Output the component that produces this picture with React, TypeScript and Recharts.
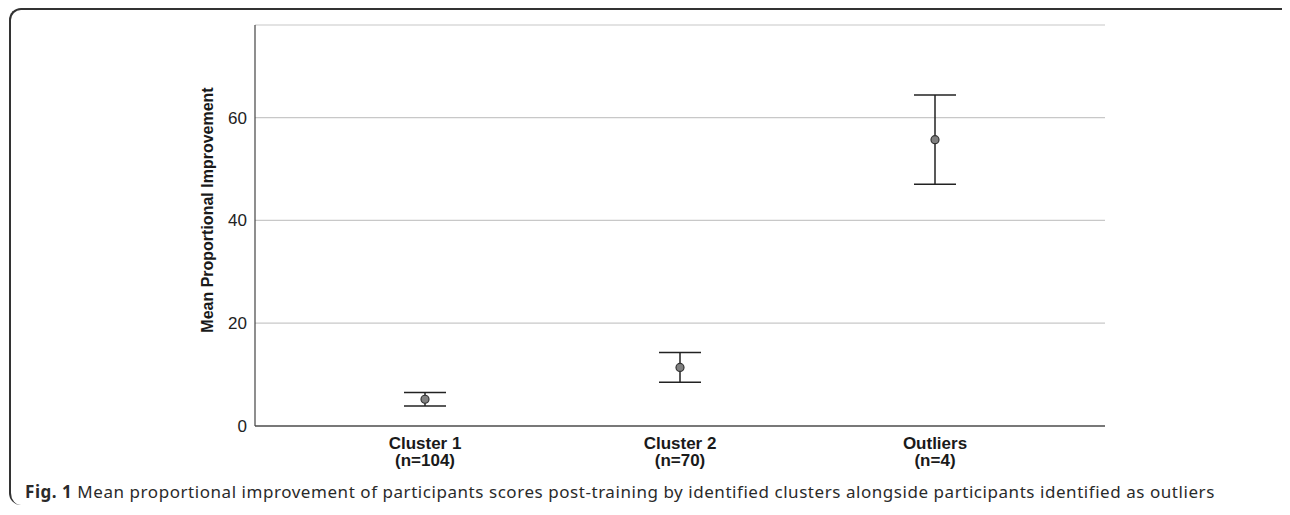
import React from 'react';
import { ScatterChart, Scatter, XAxis, YAxis, CartesianGrid, ErrorBar } from 'recharts';

// values
const categories = ['Cluster 1', 'Cluster 2', 'Outliers'];
const groupSizes = ['(n=104)', '(n=70)', '(n=4)'];
const means = [5.2, 11.4, 55.7];
const errors = [1.3, 2.9, 8.7];
const yTicks = [0, 20, 40, 60];

const data = categories.map((name, i) => ({
  x: i + 1,
  name,
  n: groupSizes[i],
  mean: means[i],
  err: errors[i],
}));

const CategoryTick = (props: any) => {
  const { x, y, payload } = props;
  const i = Math.round(payload.value) - 1;
  return (
    <g transform={`translate(${x},${y})`}>
      <text x={0} y={0} textAnchor="middle" fontFamily="Liberation Sans, Arial, sans-serif" fontWeight="bold" fontSize={17} fill="#1a1a1a">
        <tspan x={0} dy={15}>{categories[i]}</tspan>
        <tspan x={0} dy={17}>{groupSizes[i]}</tspan>
      </text>
    </g>
  );
};

const Dot = (props: any) => {
  const { cx, cy } = props;
  return <circle cx={cx} cy={cy} r={4} fill="#808080" stroke="#333" strokeWidth={1.2} />;
};

const YLabel = () => (
  <text
    x={199}
    y={202}
    transform="rotate(-90 199 202)"
    textAnchor="middle"
    dominantBaseline="central"
    fontFamily="Liberation Sans, Arial, sans-serif"
    fontWeight="bold"
    fontSize={16}
    fill="#1a1a1a"
  >
    Mean Proportional Improvement
  </text>
);

const App: React.FC = () => {
  return (
    <div style={{ position: 'relative', width: 1282, height: 507, background: '#fff' }}>
      <div
        style={{
          position: 'absolute',
          left: 1,
          top: 0,
          width: 1290,
          height: 497,
          borderTop: '2px solid #333',
          borderLeft: '2px solid #333',
          borderTopLeftRadius: 12,
          borderBottomLeftRadius: 12,
          boxSizing: 'border-box',
        }}
      />
      <div style={{ position: 'absolute', left: 0, top: 0 }}>
        <ScatterChart width={1282} height={470} margin={{ top: 17, right: 185, bottom: 2, left: 187 }}>
          <CartesianGrid vertical={false} stroke="#c8c8c8" strokeWidth={1.2} />
          <XAxis
            dataKey="x"
            type="number"
            domain={[1 - 170 / 255, 3 + 170 / 255]}
            ticks={[1, 2, 3]}
            tick={<CategoryTick />}
            tickLine={false}
            axisLine={{ stroke: '#555', strokeWidth: 1.5 }}
            height={50}
            interval={0}
          />
          <YAxis
            dataKey="mean"
            type="number"
            domain={[0, 78]}
            ticks={yTicks}
            tickLine={false}
            tickSize={6}
            tickMargin={2}
            width={60}
            axisLine={{ stroke: '#444', strokeWidth: 1.2 }}
            tick={{ fontSize: 17, fill: '#222', fontFamily: 'Liberation Sans, Arial, sans-serif' }}
            label={<YLabel />}
          />
          <Scatter data={data} dataKey="mean" shape={<Dot />} isAnimationActive={false}>
            <ErrorBar dataKey="err" direction="y" width={21} stroke="#222" strokeWidth={1.5} />
          </Scatter>
        </ScatterChart>
      </div>
      <div
        style={{
          position: 'absolute',
          left: 17,
          top: 472,
          fontFamily: '"Noto Sans", sans-serif',
          fontSize: 17,
          letterSpacing: 0.55,
          color: '#2a2a2a',
          whiteSpace: 'nowrap',
        }}
      >
        <b>Fig. 1</b> Mean proportional improvement of participants scores post-training by identified clusters alongside participants identified as outliers
      </div>
    </div>
  );
};

export default App;
